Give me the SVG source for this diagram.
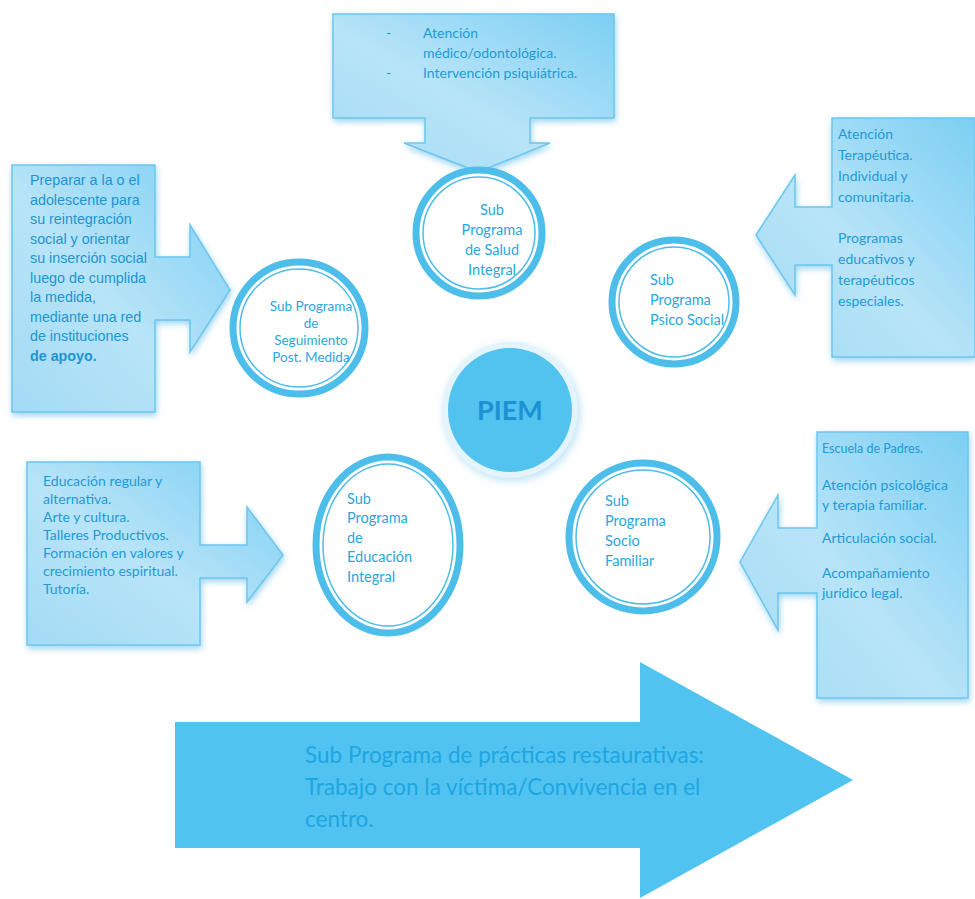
<svg xmlns="http://www.w3.org/2000/svg" width="975" height="899" viewBox="0 0 975 899">
<defs>
<linearGradient id="cg" x1="1" y1="0" x2="0" y2="1">
<stop offset="0" stop-color="#7ccff3"/>
<stop offset="0.55" stop-color="#b8e4f8"/>
<stop offset="1" stop-color="#a3dbf5"/>
</linearGradient>
<filter id="sh" x="-10%" y="-10%" width="120%" height="120%">
<feGaussianBlur in="SourceAlpha" stdDeviation="3"/>
<feOffset dx="1" dy="3" result="b"/>
<feFlood flood-color="#5ab8e6" flood-opacity="0.6"/>
<feComposite in2="b" operator="in"/>
<feMerge><feMergeNode/><feMergeNode in="SourceGraphic"/></feMerge>
</filter>
<filter id="glow" x="-20%" y="-20%" width="140%" height="140%">
<feGaussianBlur in="SourceAlpha" stdDeviation="4"/>
<feOffset dx="2" dy="3" result="b"/>
<feFlood flood-color="#9fd6ef" flood-opacity="0.7"/>
<feComposite in2="b" operator="in"/>
<feMerge><feMergeNode/><feMergeNode in="SourceGraphic"/></feMerge>
</filter>
</defs>
<style>
.call{fill:url(#cg);stroke:#6cc6ee;stroke-width:1.5;filter:url(#sh)}
.ring{fill:#fff;stroke:#4dbde9;stroke-width:7}
.inner{fill:none;stroke:#4dbde9;stroke-width:1.5}
.t{font-family:Lato,"Open Sans",sans-serif;font-size:14px;fill:#1f9ad6}
.tc{font-family:Lato,"Open Sans",sans-serif;font-size:14.5px;fill:#2aa6df}
.ta{font-family:"Liberation Sans",Arial,sans-serif;font-size:14.3px;fill:#1d95d2}
.mid{text-anchor:middle}
</style>
<rect width="975" height="899" fill="#fff"/>

<g id="big-arrow">
<path d="M175,722 H640 V662 L853,780 L640,898 V848 H175 Z" fill="#50c3f0"/>
<text class="t" x="305" y="763" style="font-size:22.5px;fill:#1ea6e2">Sub Programa de prácticas restaurativas:</text>
<text class="t" x="305" y="795" style="font-size:22.5px;fill:#1ea6e2">Trabajo con la víctima/Convivencia en el</text>
<text class="t" x="305" y="827" style="font-size:22.5px;fill:#1ea6e2">centro.</text>
</g>

<g id="connectors">
<path class="call" d="M333,14 H614 V118 H530 V143 H550 L478,172 L404,143 H425 V118 H333 Z"/>
<path class="call" d="M12,165 H155 V257 H190 V225 L230,290 L190,352 V320 H155 V412 H12 Z"/>
<path class="call" d="M832,118 H975 V357 H832 V265 H795 V295 L756,235 L795,175 V207 H832 Z"/>
<path class="call" d="M27,462 H200 V545 H247 V507 L283,555 L247,602 V578 H200 V645 H27 Z"/>
<path class="call" d="M817,432 H968 V698 H817 V593 H778 V630 L740,562 L778,495 V528 H817 Z"/>
</g>

<g id="salud-callout">
<text class="t" x="386" y="38">-</text>
<text class="t" x="423" y="38">Atención</text>
<text class="t" x="423" y="58">médico/odontológica.</text>
<text class="t" x="386" y="78">-</text>
<text class="t" x="423" y="78">Intervención psiquiátrica.</text>
</g>

<g id="seguimiento-callout">
<text class="ta" x="30" y="185">Preparar a la o el</text>
<text class="ta" x="30" y="204.5">adolescente para</text>
<text class="ta" x="30" y="224">su reintegración</text>
<text class="ta" x="30" y="243.5">social y orientar</text>
<text class="ta" x="30" y="263">su inserción social</text>
<text class="ta" x="30" y="282.5">luego de cumplida</text>
<text class="ta" x="30" y="302">la medida,</text>
<text class="ta" x="30" y="321.5">mediante una red</text>
<text class="ta" x="30" y="341">de instituciones</text>
<text class="ta" x="30" y="360.5" font-weight="bold">de apoyo.</text>
</g>

<g id="psico-callout">
<text class="t" x="838" y="139">Atención</text>
<text class="t" x="838" y="160">Terapéutica.</text>
<text class="t" x="838" y="181">Individual y</text>
<text class="t" x="838" y="202">comunitaria.</text>
<text class="t" x="838" y="243">Programas</text>
<text class="t" x="838" y="264">educativos y</text>
<text class="t" x="838" y="285">terapéuticos</text>
<text class="t" x="838" y="306">especiales.</text>
</g>

<g id="educacion-callout">
<text class="t" x="43" y="486">Educación regular  y</text>
<text class="t" x="43" y="504">alternativa.</text>
<text class="t" x="43" y="522">Arte y cultura.</text>
<text class="t" x="43" y="540">Talleres Productivos.</text>
<text class="t" x="43" y="558">Formación en valores y</text>
<text class="t" x="43" y="576">crecimiento espiritual.</text>
<text class="t" x="43" y="594">Tutoría.</text>
</g>

<g id="familiar-callout">
<text class="t" x="822" y="453" style="font-size:12.5px">Escuela de Padres.</text>
<text class="t" x="822" y="490">Atención psicológica</text>
<text class="t" x="822" y="510">y terapia familiar.</text>
<text class="t" x="822" y="543">Articulación social.</text>
<text class="t" x="822" y="578">Acompañamiento</text>
<text class="t" x="822" y="598">jurídico legal.</text>
</g>

<g id="piem">
<circle cx="510" cy="410" r="68" fill="#e3f4fc" filter="url(#glow)"/>
<circle cx="510" cy="410" r="62" fill="#52c2ee"/>
<text x="510" y="420" text-anchor="middle" font-family="Lato,'Open Sans',sans-serif" font-weight="bold" font-size="27" fill="#1b92d3">PIEM</text>
</g>

<g id="salud">
<circle class="ring" cx="479" cy="233" r="63"/>
<circle class="inner" cx="479" cy="233" r="56"/>
<text class="tc mid" x="492" y="215">Sub</text>
<text class="tc mid" x="492" y="235">Programa</text>
<text class="tc mid" x="492" y="255">de Salud</text>
<text class="tc mid" x="492" y="275">Integral</text>
</g>

<g id="seguimiento">
<circle class="ring" cx="299" cy="328" r="66"/>
<circle class="inner" cx="299" cy="328" r="59"/>
<text class="tc mid" x="311" y="311" style="font-size:13.5px">Sub Programa</text>
<text class="tc mid" x="311" y="328" style="font-size:13.5px">de</text>
<text class="tc mid" x="311" y="345" style="font-size:13.5px">Seguimiento</text>
<text class="tc mid" x="311" y="362" style="font-size:13.5px">Post. Medida</text>
</g>

<g id="psico">
<circle class="ring" cx="674" cy="302" r="62"/>
<circle class="inner" cx="674" cy="302" r="55"/>
<text class="tc" x="650" y="285">Sub</text>
<text class="tc" x="650" y="305">Programa</text>
<text class="tc" x="650" y="325">Psico Social</text>
</g>

<g id="educacion">
<ellipse class="ring" cx="388" cy="545" rx="72" ry="88"/>
<ellipse class="inner" cx="388" cy="545" rx="65" ry="81"/>
<text class="tc" x="347" y="504">Sub</text>
<text class="tc" x="347" y="523">Programa</text>
<text class="tc" x="347" y="543">de</text>
<text class="tc" x="347" y="562">Educación</text>
<text class="tc" x="347" y="582">Integral</text>
</g>

<g id="familiar">
<circle class="ring" cx="643" cy="537" r="74"/>
<circle class="inner" cx="643" cy="537" r="67"/>
<text class="tc" x="605" y="506">Sub</text>
<text class="tc" x="605" y="526">Programa</text>
<text class="tc" x="605" y="546">Socio</text>
<text class="tc" x="605" y="566">Familiar</text>
</g>
</svg>
